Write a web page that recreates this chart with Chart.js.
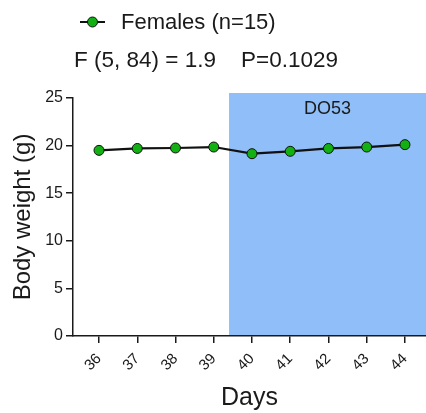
<!DOCTYPE html>
<html>
<head>
<meta charset="utf-8">
<script src="https://cdn.jsdelivr.net/npm/chart.js@4"></script>
<style>
  html, body { margin: 0; padding: 0; background: #fff; }
  #wrap { width: 426px; height: 413px; }
</style>
</head>
<body>
<div id="wrap"><canvas id="c" width="426" height="413"></canvas></div>
<script>
// ---- data ----
const days = [36, 37, 38, 39, 40, 41, 42, 43, 44];
const bodyWeight = [19.5, 19.7, 19.75, 19.85, 19.15, 19.4, 19.7, 19.85, 20.1];
const yTickValues = [0, 5, 10, 15, 20, 25];
const seriesLabel = 'Females (n=15)';
const statsTitle = 'F (5, 84) = 1.9    P=0.1029';
const shadeLabel = 'DO53';
const shadeStart = 39.4;
const xRange = [35.32, 44.55];
const yRange = [0, 25];
const xTitle = 'Days';
const yTitle = 'Body weight (g)';

const FONT = "'Liberation Sans', Arial, sans-serif";
const TXT = '#1a1a1a';
const GREEN = '#12b012';
const BLUE = '#90bef8';

Chart.defaults.font.family = FONT;
Chart.defaults.color = TXT;

const shadePlugin = {
  id: 'shade',
  beforeDraw(chart) {
    const {ctx, chartArea} = chart;
    const xs = chart.scales.x;
    const x0 = xs.getPixelForValue(shadeStart);
    const top = chartArea.top - 5;
    ctx.save();
    ctx.fillStyle = BLUE;
    ctx.fillRect(x0, top, chartArea.right - x0, chartArea.bottom - top);
    ctx.fillStyle = TXT;
    ctx.font = '18px ' + FONT;
    ctx.textAlign = 'center';
    ctx.textBaseline = 'middle';
    ctx.fillText(shadeLabel, (x0 + chartArea.right) / 2, top + 16);
    ctx.restore();
  }
};

const headerPlugin = {
  id: 'header',
  afterDraw(chart) {
    const {ctx} = chart;
    const ds = chart.data.datasets[0];
    ctx.save();
    // legend
    const ly = 22;
    ctx.strokeStyle = ds.borderColor;
    ctx.lineWidth = 2;
    ctx.beginPath();
    ctx.moveTo(80, ly);
    ctx.lineTo(105, ly);
    ctx.stroke();
    ctx.beginPath();
    ctx.arc(92.5, ly, 5, 0, Math.PI * 2);
    ctx.fillStyle = ds.pointBackgroundColor;
    ctx.fill();
    ctx.lineWidth = 1;
    ctx.strokeStyle = ds.pointBorderColor;
    ctx.stroke();
    ctx.fillStyle = TXT;
    ctx.font = '22px ' + FONT;
    ctx.textAlign = 'left';
    ctx.textBaseline = 'middle';
    ctx.fillText(ds.label, 121, ly + 1);
    // stats title
    ctx.textAlign = 'center';
    ctx.font = '22.5px ' + FONT;
    ctx.fillText(statsTitle, 206, 61);
    ctx.restore();
  }
};

new Chart(document.getElementById('c'), {
  type: 'line',
  data: {
    datasets: [{
      label: seriesLabel,
      data: days.map((d, i) => ({x: d, y: bodyWeight[i]})),
      borderColor: '#111',
      borderWidth: 2.2,
      pointRadius: 5,
      pointHoverRadius: 5,
      pointBackgroundColor: GREEN,
      pointBorderColor: '#111',
      pointBorderWidth: 1,
      tension: 0,
      clip: false
    }]
  },
  options: {
    responsive: false,
    animation: false,
    events: [],
    layout: { autoPadding: false, padding: { top: 98, left: 0, right: 0, bottom: 0 } },
    plugins: {
      legend: { display: false },
      title: { display: false },
      tooltip: { enabled: false }
    },
    scales: {
      x: {
        type: 'linear',
        min: xRange[0],
        max: xRange[1],
        afterBuildTicks(scale) { scale.ticks = days.map(v => ({value: v})); },
        afterFit(scale) { scale.height = 77; scale.paddingLeft = 0; scale.paddingRight = 0; },
        grid: { drawOnChartArea: false, drawTicks: true, tickLength: 7, color: '#1a1a1a', lineWidth: 1.5 },
        border: { display: true, color: '#1a1a1a', width: 1.5 },
        ticks: {
          minRotation: 45, maxRotation: 45, padding: 7,
          font: { size: 15 }, color: TXT,
          callback: v => String(v)
        },
        title: { display: true, text: xTitle, font: { size: 25, lineHeight: 1.2 }, color: TXT, padding: { top: 0, bottom: 0 } }
      },
      y: {
        type: 'linear',
        min: yRange[0],
        max: yRange[1],
        afterBuildTicks(scale) { scale.ticks = yTickValues.map(v => ({value: v})); },
        afterFit(scale) { scale.width = 73; },
        grid: { drawOnChartArea: false, drawTicks: true, tickLength: 7, color: '#1a1a1a', lineWidth: 1.5 },
        border: { display: true, color: '#1a1a1a', width: 1.5 },
        ticks: { padding: 3, font: { size: 16 }, color: TXT },
        title: { display: true, text: yTitle, font: { size: 24, lineHeight: 1.2 }, color: TXT, padding: { top: 9, bottom: 0 } }
      }
    }
  },
  plugins: [shadePlugin, headerPlugin]
});
</script>
</body>
</html>
